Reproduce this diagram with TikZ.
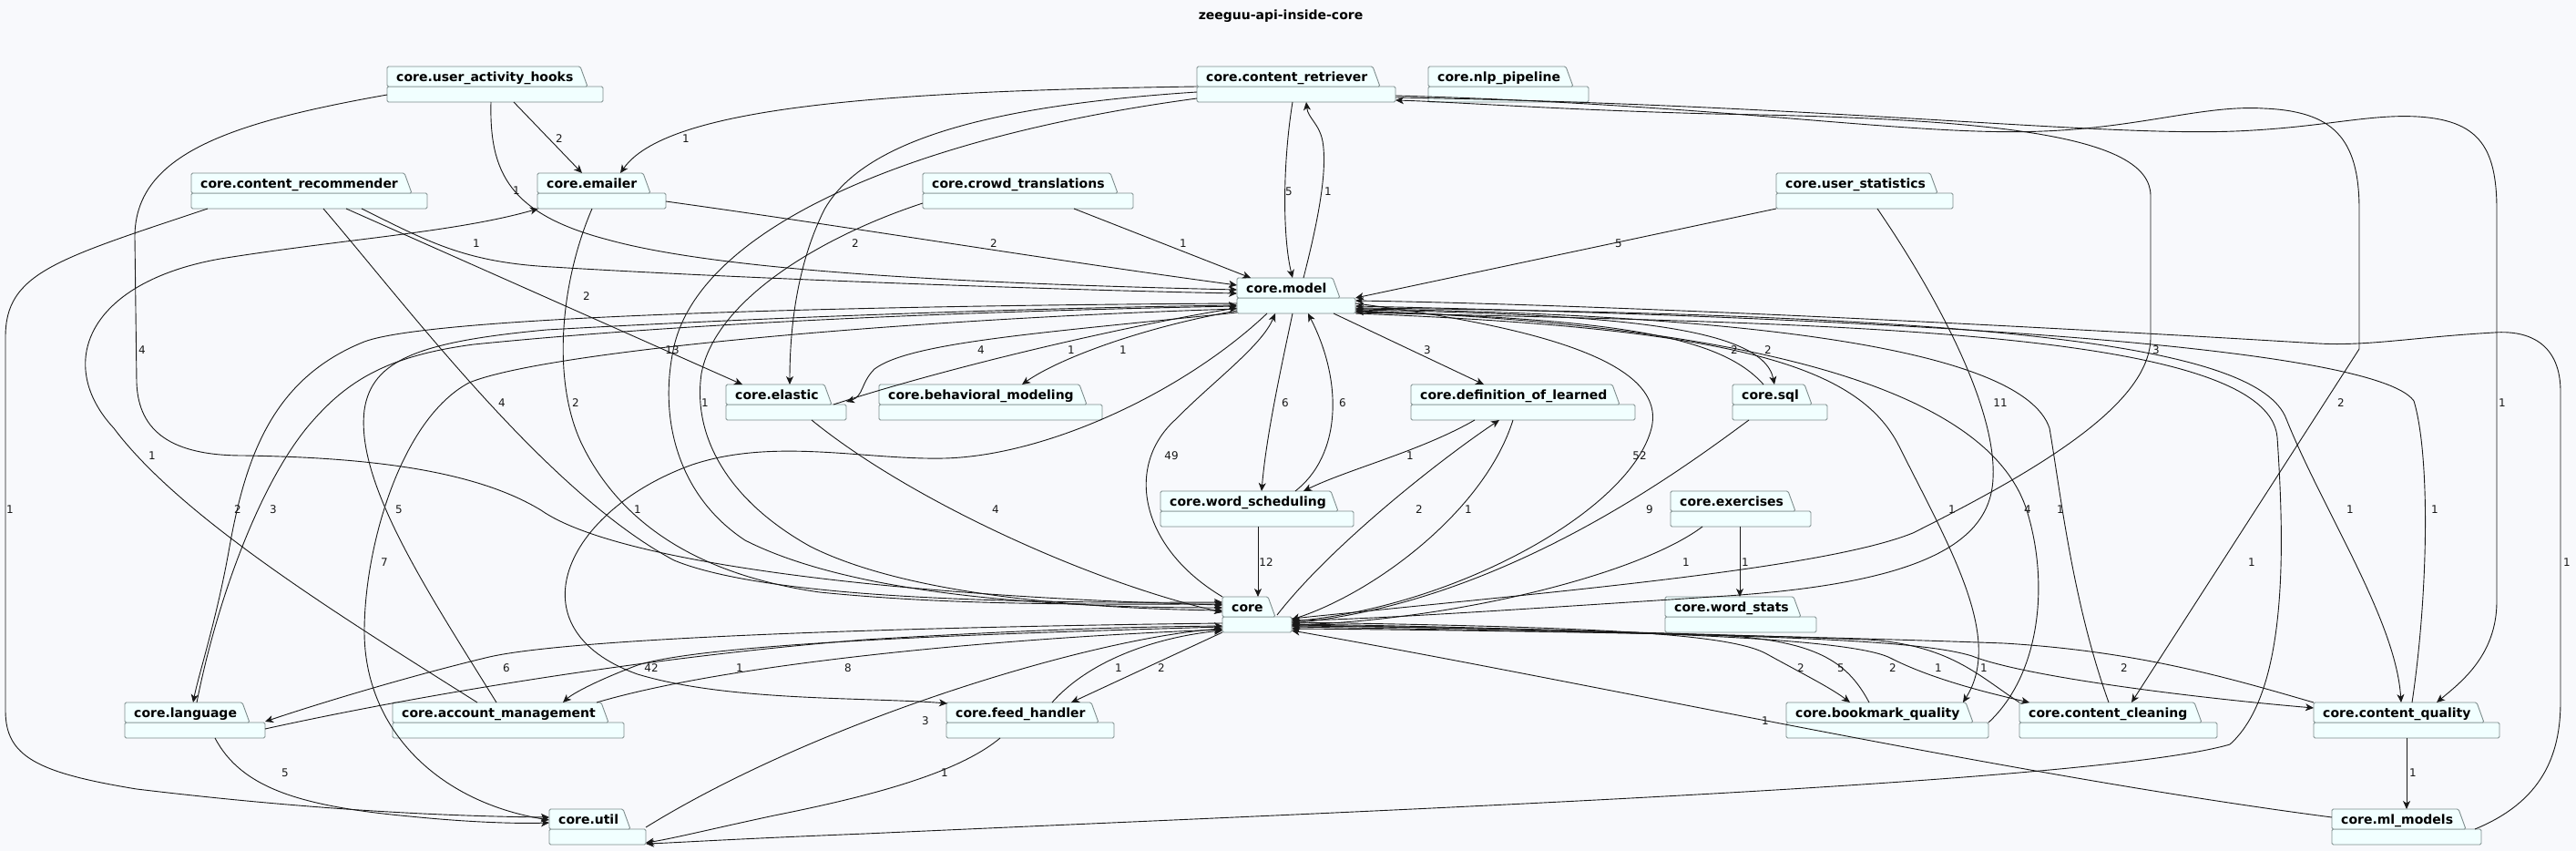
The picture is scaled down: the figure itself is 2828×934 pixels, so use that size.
\documentclass[tikz,border=0pt]{standalone}
\usepackage{fontspec}
\setmainfont{DejaVu Sans}
\usetikzlibrary{arrows.meta}

\definecolor{bgcolor}{HTML}{F8F9FC}
\definecolor{pkgfill}{HTML}{F1FFFF}
\definecolor{pkgborder}{HTML}{7D8C8C}
\definecolor{depcolor}{HTML}{181818}

% package box: name, left, top, tab width, body width, text
\newcommand{\pkgbox}[6]{%
  \node[pkgarea, minimum width=#5bp, anchor=north west] (#1) at (#2,#3) {};
  \filldraw[pkgshape] (#2,#3+22) rectangle (#2+#5,#3+39);
  \filldraw[pkgshape] (#2,#3+22) -- (#2,#3) -- (#2+#4-8,#3) -- (#2+#4,#3+22) -- cycle;
  \node[pkgname] (#1-name) at (#2+10,#3+16) {#6};
}

\begin{document}
\begin{tikzpicture}[x=1bp, y=-1bp,
  pkgarea/.style={rectangle, inner sep=0pt, minimum height=39bp},
  pkgshape/.style={fill=pkgfill, draw=pkgborder, line width=0.9bp, rounded corners=1.5bp},
  pkgname/.style={anchor=base west, inner sep=0pt, font=\bfseries\fontsize{14.05}{16}\selectfont},
  dep/.style={draw=depcolor, line width=0.9bp, -{Stealth[length=9bp, width=8bp, inset=2.5bp]}},
  num/.style={inner sep=0pt, text=depcolor, font=\fontsize{12}{14}\selectfont}]

% Background and title
\fill[bgcolor] (0,0) rectangle (2828,934);
\useasboundingbox (0,0) rectangle (2828,934);
\node[font=\bfseries\fontsize{14.05}{16}\selectfont] (title) at (1406,18) {zeeguu-api-inside-core};

% Packages
\pkgbox{uah}{425}{73}{220}{237}{core.user\_activity\_hooks}
\pkgbox{cretr}{1314}{73}{201}{218}{core.content\_retriever}
\pkgbox{nlp}{1568}{73}{159}{176}{core.nlp\_pipeline}
\pkgbox{crec}{210}{190}{242}{259}{core.content\_recommender}
\pkgbox{emailer}{590}{190}{124}{141}{core.emailer}
\pkgbox{crowd}{1013}{190}{214}{231}{core.crowd\_translations}
\pkgbox{ustat}{1950}{190}{177}{194}{core.user\_statistics}
\pkgbox{model}{1358}{305}{113}{130}{core.model}
\pkgbox{elastic}{797}{422}{116}{132}{core.elastic}
\pkgbox{behav}{965}{422}{228}{245}{core.behavioral\_modeling}
\pkgbox{defl}{1549}{422}{229}{246}{core.definition\_of\_learned}
\pkgbox{sql}{1902}{422}{87}{104}{core.sql}
\pkgbox{wsched}{1274}{539}{195}{212}{core.word\_scheduling}
\pkgbox{exercises}{1834}{539}{137}{154}{core.exercises}
\pkgbox{core}{1342}{655}{58}{76}{core}
\pkgbox{wstats}{1828}{655}{149}{166}{core.word\_stats}
\pkgbox{language}{137}{771}{137}{154}{core.language}
\pkgbox{account}{431}{771}{237}{254}{core.account\_management}
\pkgbox{feed}{1039}{771}{167}{184}{core.feed\_handler}
\pkgbox{bookmark}{1961}{771}{205}{222}{core.bookmark\_quality}
\pkgbox{cclean}{2217}{771}{200}{217}{core.content\_cleaning}
\pkgbox{cquality}{2540}{771}{187}{204}{core.content\_quality}
\pkgbox{util}{603}{888}{89}{106}{core.util}
\pkgbox{ml}{2560}{888}{147}{164}{core.ml\_models}

% Dependencies of the upper packages
\draw[dep] ([shift={(139,39)}]uah.north west) -- ([shift={(49,0)}]emailer.north west) node[num] (n1) at (614,152) {2};
\draw[dep] ([shift={(0,31)}]uah.north west) .. controls (250,135) and (148,170) .. (148,260) -- (150,420) .. controls (152,475) and (190,500) .. (267,500) .. controls (400,502) and (520,515) .. (594,560) .. controls (680,620) and (1000,655) .. ([shift={(0,9)}]core.north west) node[num] (n2) at (156,384) {4};
\draw[dep] ([shift={(114,39)}]uah.north west) .. controls (537,190) and (560,235) .. (667,263) .. controls (800,300) and (1100,312) .. ([shift={(0,13)}]model.north west) node[num] (n3) at (567,209) {1};
\draw[dep] ([shift={(0,22)}]cretr.north west) .. controls (950,100) and (730,120) .. ([shift={(91,0)}]emailer.north west) node[num] (n4) at (753,152) {1};
\draw[dep] ([shift={(0,28)}]cretr.north west) .. controls (1100,115) and (950,150) .. (905,230) .. controls (875,290) and (867,360) .. ([shift={(70,0)}]elastic.north west) node[num] (n5) at (939,267) {2};
\draw[dep] ([shift={(0,35)}]cretr.north west) .. controls (1000,150) and (770,250) .. (740,380) .. controls (722,460) and (745,545) .. (818,593) .. controls (950,660) and (1200,667) .. ([shift={(0,12)}]core.north west) node[num] (n6) at (738,384) {13};
\draw[dep] ([shift={(0,33)}]crowd.north west) .. controls (900,260) and (785,330) .. (770,410) .. controls (760,480) and (800,550) .. (890,600) .. controls (1000,655) and (1200,668) .. ([shift={(0,15)}]core.north west) node[num] (n7) at (774,442) {1};
\draw[dep] ([shift={(187,39)}]crec.north west) .. controls (470,265) and (510,288) .. (606,293) .. controls (800,305) and (1150,318) .. ([shift={(0,17)}]model.north west) node[num] (n8) at (523,267) {1};
\draw[dep] ([shift={(170,39)}]crec.north west) -- ([shift={(18,0)}]elastic.north west) node[num] (n9) at (644,325) {2};
\draw[dep] ([shift={(145,39)}]crec.north west) .. controls (450,340) and (600,540) .. (740,615) .. controls (850,660) and (1150,662) .. ([shift={(0,6)}]core.north west) node[num] (n10) at (551,442) {4};
\draw[dep] ([shift={(60,39)}]emailer.north west) .. controls (615,310) and (605,420) .. (640,490) .. controls (680,570) and (760,630) .. (900,650) .. controls (1050,665) and (1200,663) .. ([shift={(0,8)}]core.north west) node[num] (n11) at (632,442) {2};
\draw[dep] ([shift={(93,0)}]account.north west) .. controls (380,680) and (200,570) .. (125,470) .. controls (60,400) and (95,310) .. (242,284) .. controls (380,262) and (500,255) .. ([shift={(1,39)}]emailer.north west) node[num] (n12) at (167,500) {1};
\draw[dep] ([shift={(105,39)}]cretr.north west) .. controls (1408,180) and (1408,260) .. ([shift={(61,0)}]model.north west) node[num] (n13) at (1415,210) {5};
\draw[dep] ([shift={(73,0)}]model.north west) .. controls (1445,250) and (1458,190) .. (1452,155) .. controls (1448,135) and (1436,130) .. ([shift={(120,39)}]cretr.north west) node[num] (n14) at (1458,210) {1};
\draw[dep] ([shift={(141,31)}]emailer.north west) .. controls (940,250) and (1150,285) .. ([shift={(0,8)}]model.north west) node[num] (n15) at (1091,267) {2};
\draw[dep] ([shift={(166,39)}]crowd.north west) -- ([shift={(15,0)}]model.north west) node[num] (n16) at (1299,267) {1};
\draw[dep] ([shift={(0,39)}]ustat.north west) -- ([shift={(130,22)}]model.north west) node[num] (n17) at (1777,267) {5};

% Dependencies around core.model
\draw[dep] ([shift={(0,38)}]model.north west) .. controls (1150,365) and (1000,375) .. (960,405) .. controls (945,420) and (948,435) .. ([shift={(132,19)}]elastic.north west) node[num] (n18) at (1077,384) {4};
\draw[dep] ([shift={(118,22)}]elastic.north west) .. controls (1050,400) and (1250,355) .. ([shift={(0,33)}]model.north west) node[num] (n19) at (1176,384) {1};
\draw[dep] ([shift={(0,36)}]model.north west) .. controls (1250,360) and (1160,395) .. ([shift={(157,0)}]behav.north west) node[num] (n20) at (1233,384) {1};
\draw[dep] ([shift={(106,39)}]model.north west) -- ([shift={(80,0)}]defl.north west) node[num] (n21) at (1567,384) {3};
\draw[dep] ([shift={(61,39)}]model.north west) .. controls (1405,410) and (1390,480) .. ([shift={(111,0)}]wsched.north west) node[num] (n22) at (1411,442) {6};
\draw[dep] ([shift={(148,0)}]wsched.north west) .. controls (1472,500) and (1475,420) .. ([shift={(78,39)}]model.north west) node[num] (n23) at (1474,442) {6};
\draw[dep] (core.north west) .. controls (1250,600) and (1235,510) .. (1291,460) .. controls (1330,420) and (1385,380) .. ([shift={(42,39)}]model.north west) node[num] (n24) at (1286,500) {49};
\draw[dep] ([shift={(33,39)}]model.north west) .. controls (1300,430) and (1150,500) .. (1037,503) .. controls (950,505) and (850,480) .. (760,510) .. controls (620,560) and (560,690) .. (700,740) .. controls (800,770) and (950,765) .. ([shift={(1,1)}]feed.north west) node[num] (n25) at (700,559) {1};
\draw[dep] ([shift={(114,0)}]account.north west) .. controls (470,650) and (390,530) .. (400,450) .. controls (408,395) and (460,375) .. (600,362) .. controls (900,345) and (1200,337) .. ([shift={(0,30)}]model.north west) node[num] (n26) at (438,559) {5};
\draw[dep] ([shift={(0,28)}]model.north west) .. controls (1000,335) and (480,345) .. (400,375) .. controls (300,415) and (270,500) .. (252,600) .. controls (238,680) and (218,740) .. ([shift={(75,0)}]language.north west) node[num] (n27) at (261,559) {2};
\draw[dep] ([shift={(79,0)}]language.north west) .. controls (240,650) and (290,520) .. (345,460) .. controls (385,415) and (430,390) .. (520,378) .. controls (800,350) and (1150,340) .. ([shift={(0,31)}]model.north west) node[num] (n28) at (300,559) {3};
\draw[dep] ([shift={(0,34)}]model.north west) .. controls (1000,350) and (600,385) .. (515,420) .. controls (440,460) and (400,600) .. (400,693) .. controls (400,800) and (480,880) .. ([shift={(0,12)}]util.north west) node[num] (n29) at (422,617) {7};
\draw[dep] ([shift={(130,38)}]model.north west) .. controls (2000,355) and (2490,360) .. (2500,480) .. controls (2508,600) and (2512,760) .. (2448,817) .. controls (2300,860) and (1500,890) .. (950,915) .. controls (800,921) and (740,925) .. ([shift={(106,38)}]util.north west) node[num] (n30) at (2472,617) {1};
\draw[dep] ([shift={(130,35)}]model.north west) .. controls (1750,345) and (1935,355) .. ([shift={(46,0)}]sql.north west) node[num] (n31) at (1941,384) {2};
\draw[dep] ([shift={(34,0)}]sql.north west) .. controls (1890,370) and (1780,350) .. ([shift={(130,37)}]model.north west) node[num] (n32) at (1904,384) {2};
\draw[dep] ([shift={(130,39)}]model.north west) .. controls (1900,360) and (2040,400) .. (2085,490) .. controls (2140,600) and (2200,700) .. ([shift={(194,0)}]bookmark.north west) node[num] (n33) at (2143,559) {1};
\draw[dep] ([shift={(222,22)}]bookmark.north west) .. controls (2240,740) and (2250,640) .. (2225,560) .. controls (2190,450) and (2000,360) .. ([shift={(130,36)}]model.north west) node[num] (n34) at (2226,559) {4};
\draw[dep] ([shift={(98,0)}]cclean.north west) .. controls (2275,660) and (2262,540) .. (2250,470) .. controls (2220,380) and (1900,345) .. ([shift={(130,34)}]model.north west) node[num] (n35) at (2262,559) {1};
\draw[dep] ([shift={(130,33)}]model.north west) .. controls (2200,345) and (2480,380) .. (2510,460) .. controls (2550,560) and (2630,680) .. ([shift={(96,0)}]cquality.north west) node[num] (n36) at (2580,559) {1};
\draw[dep] ([shift={(108,0)}]cquality.north west) .. controls (2666,650) and (2668,500) .. (2650,440) .. controls (2600,370) and (1900,345) .. ([shift={(130,31)}]model.north west) node[num] (n37) at (2673,559) {1};
\draw[dep] ([shift={(157,22)}]ml.north west) .. controls (2790,880) and (2811,830) .. (2811,770) -- (2811,430) .. controls (2811,380) and (2780,362) .. (2738,365) .. controls (2650,370) and (2600,380) .. (2545,377) .. controls (2300,362) and (1800,335) .. ([shift={(130,25)}]model.north west) node[num] (n38) at (2818,617) {1};

% Dependencies of the lower packages
\draw[dep] ([shift={(18,39)}]crec.north west) .. controls (60,285) and (6,300) .. (6,370) -- (6,780) .. controls (6,830) and (40,848) .. (150,866) .. controls (350,890) and (500,896) .. ([shift={(0,9)}]util.north west) node[num] (n39) at (11,559) {1};
\draw[dep] ([shift={(99,39)}]language.north west) .. controls (265,865) and (330,885) .. (450,896) .. controls (520,903) and (570,904) .. ([shift={(0,15)}]util.north west) node[num] (n40) at (313,848) {5};
\draw[dep] ([shift={(106,20)}]util.north west) .. controls (900,790) and (1200,700) .. ([shift={(0,35)}]core.north west) node[num] (n41) at (1016,791) {3};
\draw[dep] ([shift={(59,39)}]feed.north west) .. controls (1050,850) and (950,875) .. (850,895) .. controls (780,910) and (740,920) .. ([shift={(106,37)}]util.north west) node[num] (n42) at (1037,848) {1};
\draw[dep] ([shift={(0,29)}]core.north west) .. controls (1000,688) and (620,700) .. (533,722) .. controls (450,742) and (350,772) .. ([shift={(154,21)}]language.north west) node[num] (n43) at (556,733) {6};
\draw[dep] ([shift={(154,29)}]language.north west) .. controls (450,765) and (700,722) .. (950,702) .. controls (1150,690) and (1250,688) .. ([shift={(0,32)}]core.north west) node[num] (n44) at (715,733) {42};
\draw[dep] ([shift={(0,33)}]core.north west) .. controls (1100,695) and (780,705) .. (700,730) .. controls (660,745) and (630,760) .. ([shift={(187,0)}]account.north west) node[num] (n45) at (812,733) {1};
\draw[dep] ([shift={(224,0)}]account.north west) .. controls (800,728) and (1100,700) .. ([shift={(0,36)}]core.north west) node[num] (n46) at (931,733) {8};
\draw[dep] ([shift={(94,39)}]elastic.north west) .. controls (1000,550) and (1200,640) .. ([shift={(0,17)}]core.north west) node[num] (n47) at (1093,559) {4};
\draw[dep] ([shift={(116,0)}]feed.north west) .. controls (1200,720) and (1280,698) .. ([shift={(0,37)}]core.north west) node[num] (n48) at (1228,733) {1};
\draw[dep] ([shift={(0,39)}]core.north west) -- ([shift={(137,0)}]feed.north west) node[num] (n49) at (1275,733) {2};
\draw[dep] ([shift={(107,39)}]wsched.north west) -- ([shift={(39,0)}]core.north west) node[num] (n50) at (1390,617) {12};
\draw[dep] ([shift={(70,39)}]defl.north west) .. controls (1560,495) and (1480,515) .. ([shift={(157,0)}]wsched.north west) node[num] (n51) at (1548,500) {1};
\draw[dep] ([shift={(60,20)}]core.north west) .. controls (1460,600) and (1580,505) .. ([shift={(97,39)}]defl.north west) node[num] (n52) at (1558,559) {2};
\draw[dep] ([shift={(112,39)}]defl.north west) .. controls (1630,560) and (1510,650) .. ([shift={(76,25)}]core.north west) node[num] (n53) at (1612,559) {1};
\draw[dep] ([shift={(130,28)}]model.north west) .. controls (1700,360) and (1830,400) .. (1813,470) .. controls (1790,560) and (1600,665) .. ([shift={(76,27)}]core.north west) node[num] (n54) at (1800,500) {52};
\draw[dep] ([shift={(18,39)}]sql.north west) .. controls (1840,520) and (1650,660) .. ([shift={(76,29)}]core.north west) node[num] (n55) at (1811,559) {9};
\draw[dep] ([shift={(35,39)}]exercises.north west) .. controls (1800,630) and (1600,680) .. ([shift={(76,31)}]core.north west) node[num] (n56) at (1851,617) {1};
\draw[dep] ([shift={(76,39)}]exercises.north west) -- ([shift={(82,0)}]wstats.north west) node[num] (n57) at (1916,617) {1};
\draw[dep] ([shift={(111,39)}]ustat.north west) .. controls (2130,330) and (2192,450) .. (2188,525) .. controls (2185,600) and (2100,642) .. (1880,655) .. controls (1650,670) and (1500,680) .. ([shift={(76,26)}]core.north west) node[num] (n58) at (2196,442) {11};
\draw[dep] ([shift={(76,24)}]core.north west) .. controls (1700,650) and (2000,625) .. (2100,585) .. controls (2250,510) and (2361,440) .. (2361,370) -- (2361,215) .. controls (2361,150) and (2200,130) .. (1880,125) .. controls (1700,120) and (1600,112) .. ([shift={(218,37)}]cretr.north west) node[num] (n59) at (2367,384) {3};
\draw[dep] ([shift={(218,32)}]cretr.north west) .. controls (1900,115) and (2100,150) .. (2243,144) .. controls (2350,140) and (2420,115) .. (2485,119) .. controls (2560,122) and (2590,150) .. (2590,230) -- (2590,383) -- ([shift={(123,0)}]cclean.north west) node[num] (n60) at (2570,442) {2};
\draw[dep] ([shift={(218,34)}]cretr.north west) .. controls (2000,115) and (2300,150) .. (2454,144) .. controls (2550,140) and (2600,125) .. (2654,128) .. controls (2720,132) and (2741,160) .. (2741,230) -- (2741,660) .. controls (2741,720) and (2700,750) .. ([shift={(135,0)}]cquality.north west) node[num] (n61) at (2747,442) {1};

% Dependencies on the right of core
\draw[dep] ([shift={(76,28)}]core.north west) .. controls (1750,688) and (1900,695) .. (1940,718) .. controls (1980,740) and (2010,755) .. ([shift={(70,0)}]bookmark.north west) node[num] (n62) at (1977,733) {2};
\draw[dep] ([shift={(91,0)}]bookmark.north west) .. controls (2030,730) and (2000,705) .. (1900,698) .. controls (1700,690) and (1500,686) .. ([shift={(76,30)}]core.north west) node[num] (n63) at (2021,733) {5};
\draw[dep] ([shift={(76,31)}]core.north west) .. controls (1800,692) and (2030,700) .. (2075,722) .. controls (2120,745) and (2180,760) .. ([shift={(11,0)}]cclean.north west) node[num] (n64) at (2078,733) {2};
\draw[dep] (cclean.north west) .. controls (2170,740) and (2140,708) .. (2050,702) .. controls (1800,693) and (1550,688) .. ([shift={(76,32)}]core.north west) node[num] (n65) at (2128,733) {1};
\draw[dep] ([shift={(76,33)}]core.north west) .. controls (1900,696) and (2100,700) .. (2165,720) .. controls (2220,742) and (2400,765) .. ([shift={(0,6)}]cquality.north west) node[num] (n66) at (2178,733) {1};
\draw[dep] (cquality.north west) .. controls (2450,745) and (2350,715) .. (2200,706) .. controls (1900,695) and (1550,691) .. ([shift={(76,35)}]core.north west) node[num] (n67) at (2332,733) {2};
\draw[dep] ([shift={(0,9)}]ml.north west) .. controls (2200,850) and (1750,750) .. ([shift={(76,37)}]core.north west) node[num] (n68) at (1938,791) {1};
\draw[dep] ([shift={(102,39)}]cquality.north west) -- ([shift={(82,0)}]ml.north west) node[num] (n69) at (2649,848) {1};

\end{tikzpicture}
\end{document}
